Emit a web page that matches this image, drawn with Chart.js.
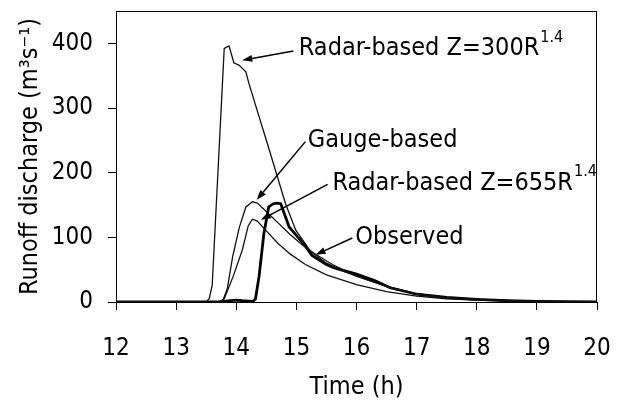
<!DOCTYPE html>
<html>
<head>
<meta charset="utf-8">
<script src="https://cdn.jsdelivr.net/npm/chart.js@4.4.1/dist/chart.umd.min.js"></script>
<style>
  html, body { margin: 0; background: #fff; }
  #wrap { width: 621px; height: 402px; }
</style>
</head>
<body>
<div id="wrap"><canvas id="runoffChart"></canvas></div>
<script>
const FONT = "'DejaVu Sans Condensed', 'DejaVu Sans', sans-serif";

// hours
const xTickValues = [12, 13, 14, 15, 16, 17, 18, 19, 20];
const yTickValues = [0, 100, 200, 300, 400];

// runoff discharge, m3/s
const observedTime = [12, 13.7, 13.9, 14.0, 14.1, 14.28, 14.32, 14.38, 14.46, 14.54, 14.62, 14.68, 14.74, 14.88, 15.0, 15.12, 15.26, 15.5, 15.62, 15.73, 16.0, 16.3, 16.56, 17.0, 17.5, 18.0, 18.5, 19.0, 20];
const observedFlow = [0, 0, 2, 3, 2, 1, 5, 40, 106, 147, 152, 153, 152, 116, 103, 90, 72, 58, 53, 50, 43, 33, 22, 12, 7, 4, 2, 1, 0];

const gaugeTime = [12, 13.7, 13.78, 13.85, 13.94, 14.05, 14.16, 14.27, 14.35, 14.5, 14.7, 14.9, 15.1, 15.3, 15.6, 16.0, 16.5, 17.0, 17.5, 18.0, 19.0, 20];
const gaugeFlow = [0, 0, 3, 20, 70, 115, 147, 155, 153, 140, 122, 104, 88, 75, 58, 40, 24, 13, 7, 4, 1, 0];

const radar300Time = [12, 13.5, 13.55, 13.6, 13.8, 13.88, 13.96, 14.05, 14.16, 14.21, 14.55, 14.82, 14.99, 15.24, 15.5, 15.8, 16.0, 16.5, 17.0, 17.5, 18.0, 19.0, 20];
const radar300Flow = [0, 0, 5, 26, 392, 396, 370, 366, 356, 338, 235, 152, 111, 78, 60, 47, 40, 24, 12, 6, 3, 1, 0];

const radar655Time = [12, 13.72, 13.8, 13.95, 14.1, 14.2, 14.27, 14.35, 14.5, 14.7, 14.9, 15.15, 15.5, 16.0, 16.5, 17.0, 17.5, 18.0, 19.0, 20];
const radar655Flow = [0, 0, 5, 40, 80, 118, 128, 125, 110, 90, 74, 58, 42, 27, 16, 9, 5, 3, 1, 0];

// callout labels: text start, arrow start and arrow tip in data units
const callouts = [
  { text: "Radar-based Z=300R", sup: "1.4", at: [15.04, 392], from: [14.95, 388], tip: [14.10, 374] },
  { text: "Gauge-based", sup: "", at: [15.19, 250], from: [15.15, 248], tip: [14.34, 158] },
  { text: "Radar-based Z=655R", sup: "1.4", at: [15.60, 184], from: [15.52, 182], tip: [14.41, 127] },
  { text: "Observed", sup: "", at: [15.98, 99], from: [15.93, 99], tip: [15.32, 73] },
];

function pairs(xs, ys) {
  return xs.map((x, i) => ({ x: x, y: ys[i] }));
}

const calloutPlugin = {
  id: "callouts",
  afterDraw(chart) {
    const { ctx, chartArea: a, scales: { x, y } } = chart;
    ctx.save();
    ctx.strokeStyle = "#000";
    ctx.lineWidth = 1;
    ctx.strokeRect(a.left + 0.5, a.top + 0.5, a.right - a.left - 1, a.bottom - a.top);

    ctx.fillStyle = "#000";
    callouts.forEach(c => {
      const fx = x.getPixelForValue(c.from[0]), fy = y.getPixelForValue(c.from[1]);
      const tx = x.getPixelForValue(c.tip[0]), ty = y.getPixelForValue(c.tip[1]);
      const ang = Math.atan2(ty - fy, tx - fx);
      const len = 10, half = 3.5;
      const bx = tx - len * Math.cos(ang), by = ty - len * Math.sin(ang);
      ctx.lineWidth = 1.5;
      ctx.beginPath();
      ctx.moveTo(fx, fy);
      ctx.lineTo(bx, by);
      ctx.stroke();
      ctx.beginPath();
      ctx.moveTo(tx, ty);
      ctx.lineTo(bx + half * Math.sin(ang), by - half * Math.cos(ang));
      ctx.lineTo(bx - half * Math.sin(ang), by + half * Math.cos(ang));
      ctx.closePath();
      ctx.fill();

      const px = x.getPixelForValue(c.at[0]), py = y.getPixelForValue(c.at[1]);
      ctx.font = "25px " + FONT;
      ctx.textAlign = "left";
      ctx.textBaseline = "middle";
      ctx.fillText(c.text, px, py);
      if (c.sup) {
        const w = ctx.measureText(c.text).width;
        ctx.font = "16px " + FONT;
        ctx.fillText(c.sup, px + w + 1, py - 11);
      }
    });
    ctx.restore();
  }
};

function thin(label, data) {
  return { label: label, data: data, borderColor: "#111", borderWidth: 1.3, pointRadius: 0, fill: false };
}

new Chart(document.getElementById("runoffChart"), {
  type: "line",
  data: {
    datasets: [
      thin("Radar-based Z=300R1.4", pairs(radar300Time, radar300Flow)),
      thin("Gauge-based", pairs(gaugeTime, gaugeFlow)),
      thin("Radar-based Z=655R1.4", pairs(radar655Time, radar655Flow)),
      { label: "Observed", data: pairs(observedTime, observedFlow), borderColor: "#000", borderWidth: 2.8, pointRadius: 0, fill: false },
    ],
  },
  options: {
    responsive: true,
    maintainAspectRatio: false,
    animation: false,
    layout: { padding: { top: 11, right: 24, left: 0, bottom: 0 } },
    plugins: { legend: { display: false }, tooltip: { enabled: false } },
    scales: {
      x: {
        type: "linear",
        min: 12,
        max: 20,
        afterFit: s => { s.height = 100; s.paddingLeft = 0; s.paddingRight = 0; },
        afterBuildTicks: s => { s.ticks = xTickValues.map(v => ({ value: v })); },
        ticks: { color: "#000", font: { family: FONT, size: 24 }, padding: 24, maxRotation: 0 },
        grid: { drawOnChartArea: false, drawTicks: true, tickLength: 8, color: "#000" },
        border: { color: "#000", width: 1 },
        title: { display: true, text: "Time (h)", color: "#000", font: { family: FONT, size: 25 }, padding: { top: 0, bottom: 0 } },
      },
      y: {
        min: 0,
        max: 450,
        afterFit: s => { s.width = 116; s.paddingTop = 0; s.paddingBottom = 0; },
        afterBuildTicks: s => { s.ticks = yTickValues.map(v => ({ value: v })); },
        ticks: { color: "#000", font: { family: FONT, size: 24 }, padding: 15 },
        grid: { drawOnChartArea: false, drawTicks: true, tickLength: 8, color: "#000" },
        border: { color: "#000", width: 1 },
        title: { display: true, text: "Runoff discharge (m³s⁻¹)", color: "#000", font: { family: FONT, size: 25 }, padding: { top: 15, bottom: 0 } },
      },
    },
  },
  plugins: [calloutPlugin],
});
</script>
</body>
</html>
